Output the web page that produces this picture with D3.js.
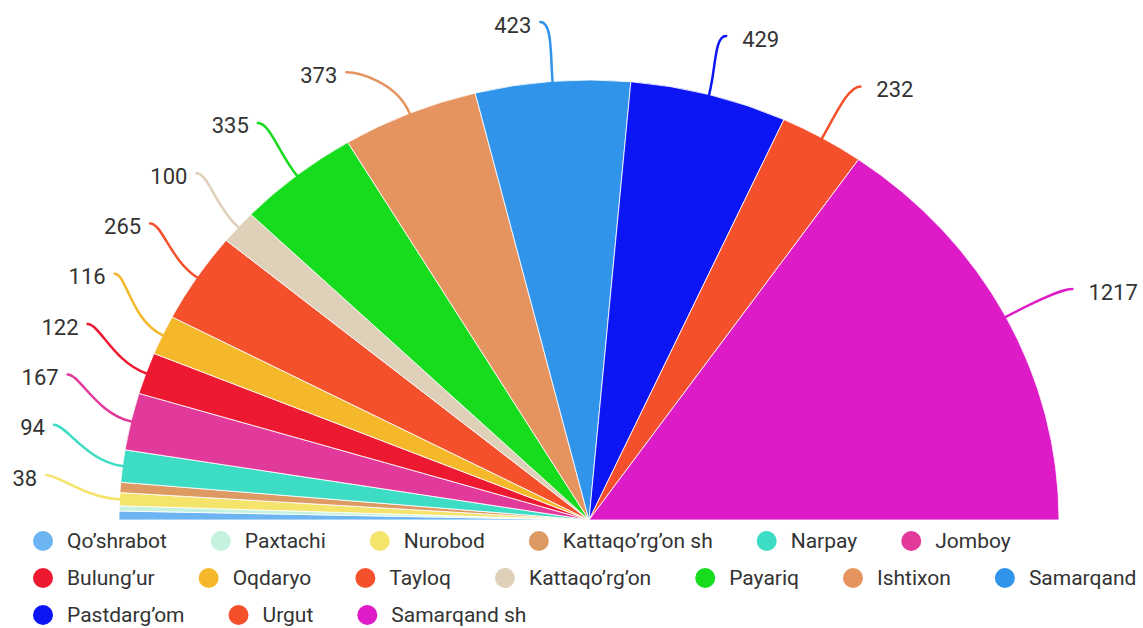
<!DOCTYPE html>
<html>
<head>
<meta charset="utf-8">
<script src="https://cdn.jsdelivr.net/npm/d3@7"></script>
<style>
  body { margin: 0; background: #fff; }
  text { font-family: Roboto, "Open Sans", sans-serif; fill: #333; }
</style>
</head>
<body>
<svg id="chart"></svg>
<script>
// districts, left to right around the half circle
const districts = ["Qo’shrabot", "Paxtachi", "Nurobod", "Kattaqo’rg’on sh", "Narpay", "Jomboy",
  "Bulung’ur", "Oqdaryo", "Tayloq", "Kattaqo’rg’on", "Payariq", "Ishtixon", "Samarqand",
  "Pastdarg’om", "Urgut", "Samarqand sh"];
const counts = [26, 15, 38, 30, 94, 167, 122, 116, 265, 100, 335, 373, 423, 429, 232, 1217];
const colors = ["#6db4f2", "#c4f2de", "#f5e46c", "#dd9a63", "#3cdcc5", "#e23a9b",
  "#ec1931", "#f6b82b", "#f5502c", "#dfd0b9", "#17dc1d", "#e5935f", "#2f94ea",
  "#0c16f5", "#f5502c", "#dd1cc8"];

const width = 1143, height = 628;
const cx = 589, cy = 520, rx = 470, ry = 440;   // pie is a bit wider than tall
const labelRx = 545, labelRy = 500, labelGap = 50.3, minLabelValue = 35;

const svg = d3.select("#chart").attr("width", width).attr("height", height);
svg.append("rect").attr("width", width).attr("height", height).attr("fill", "#fff");

const data = districts.map((d, i) => ({name: d, value: counts[i], color: colors[i]}));
const pie = d3.pie().value(d => d.value).sort(null)
    .startAngle(-Math.PI / 2).endAngle(Math.PI / 2);
const arcs = pie(data);
const arc = d3.arc().innerRadius(0).outerRadius(ry);

svg.append("g")
    .attr("transform", "translate(" + cx + "," + cy + ") scale(" + (rx / ry) + ",1)")
  .selectAll("path")
  .data(arcs)
  .enter().append("path")
    .attr("d", arc)
    .attr("fill", d => d.data.color)
    .attr("stroke", "#fff")
    .attr("stroke-width", 0.8)
    .attr("stroke-linejoin", "round");

// label anchors on a bigger ellipse, then spread so they don't collide
let labels = arcs.filter(d => d.data.value >= minLabelValue).map(d => {
  const m = (d.startAngle + d.endAngle) / 2;
  return {d: d, m: m, side: m < 0 ? -1 : 1,
          ax: cx + rx * Math.sin(m), ay: cy - ry * Math.cos(m),
          ideal: -labelRy * Math.cos(m)};
});

function distribute(items, lo, hi) {
  items.sort((a, b) => a.ideal - b.ideal);
  const clusters = items.map(it => ({items: [it], sum: it.ideal}));
  const place = c => {
    const n = c.items.length;
    let top = c.sum / n - (n - 1) * labelGap / 2;
    c.top = Math.max(lo, Math.min(top, hi - (n - 1) * labelGap));
  };
  clusters.forEach(place);
  let changed = true;
  while (changed) {
    changed = false;
    for (let i = 0; i < clusters.length - 1; i++) {
      const a = clusters[i], b = clusters[i + 1];
      if (a.top + a.items.length * labelGap > b.top) {
        a.items = a.items.concat(b.items);
        a.sum += b.sum;
        clusters.splice(i + 1, 1);
        place(a);
        changed = true;
        break;
      }
    }
  }
  clusters.forEach(c => c.items.forEach((it, k) => it.y = c.top + k * labelGap));
}
distribute(labels.filter(l => l.side < 0), -labelRy + 2, -45);
distribute(labels.filter(l => l.side > 0), -labelRy + 2, -45);

labels.forEach(l => {
  const t = Math.max(0, 1 - (l.y / labelRy) * (l.y / labelRy));
  l.ex = cx + l.side * labelRx * Math.sqrt(t);
  l.ey = cy + l.y;
});

const leader = l => {
  const dx = Math.sin(l.m), dy = -Math.cos(l.m);
  const len = Math.hypot(l.ex - l.ax, l.ey - l.ay) * 0.45;
  const p = d3.path();
  p.moveTo(l.ax, l.ay);
  p.bezierCurveTo(l.ax + dx * len, l.ay + dy * len, l.ex - l.side * 12, l.ey, l.ex, l.ey);
  return p.toString();
};

const lab = svg.append("g").selectAll("g").data(labels).enter().append("g");
lab.append("path")
    .attr("d", leader)
    .attr("fill", "none")
    .attr("stroke", l => l.d.data.color)
    .attr("stroke-width", 2.5)
    .attr("stroke-linecap", "round");
lab.append("text")
    .attr("x", l => l.ex + (l.side < 0 ? -9 : 16))
    .attr("y", l => l.ey + 3)
    .attr("text-anchor", l => l.side < 0 ? "end" : "start")
    .attr("dominant-baseline", "central")
    .style("font-size", "22px")
    .text(l => l.d.data.value);

// legend, laid out as a wrapping row of items
const legend = svg.append("g");
const dotR = 10, maxX = 1146;
let lx = 33, row = 0;
data.forEach(d => {
  const item = legend.append("g");
  const txt = item.append("text")
      .attr("x", 2 * dotR + 14)
      .attr("dominant-baseline", "central")
      .style("font-size", "21px")
      .text(d.name);
  const w = 2 * dotR + 14 + txt.node().getComputedTextLength();
  if (lx + w > maxX) { lx = 33; row++; }
  item.append("circle")
      .attr("cx", dotR).attr("r", dotR)
      .attr("fill", d.color);
  item.attr("transform", "translate(" + lx + "," + (541 + row * 37) + ")");
  lx += w + 44;
});
</script>
</body>
</html>
